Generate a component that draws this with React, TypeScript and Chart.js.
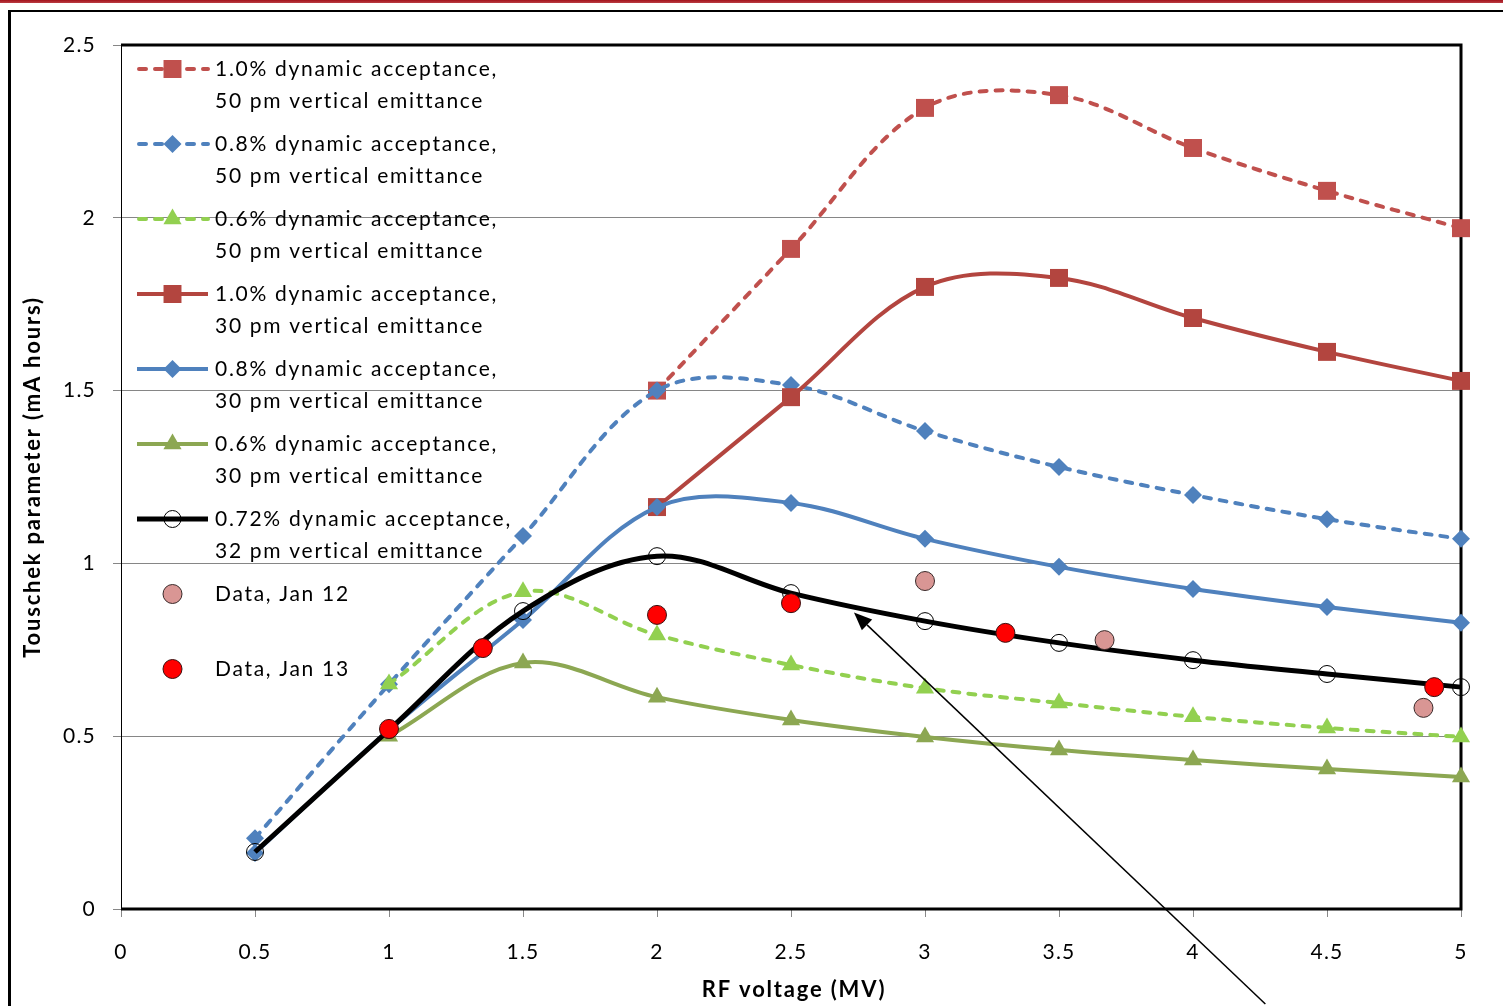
import React, { useEffect, useRef } from 'react';
import { Chart, registerables } from 'chart.js';

Chart.register(...registerables);

// ---------- data ----------
const xAll = [0.5, 1, 1.5, 2, 2.5, 3, 3.5, 4, 4.5, 5];
const xFrom1 = [1, 1.5, 2, 2.5, 3, 3.5, 4, 4.5, 5];
const xFrom2 = [2, 2.5, 3, 3.5, 4, 4.5, 5];

const da10pm50 = [1.5, 1.91, 2.318, 2.355, 2.202, 2.078, 1.97]; // xFrom2
const da08pm50 = [0.205, 0.65, 1.079, 1.5, 1.516, 1.383, 1.279, 1.198, 1.128, 1.071]; // xAll
const da06pm50 = [0.651, 0.918, 0.793, 0.706, 0.639, 0.596, 0.556, 0.524, 0.498]; // xFrom1
const da10pm30 = [1.163, 1.481, 1.8, 1.826, 1.71, 1.612, 1.528]; // xFrom2
const da08pm30 = [0.162, 0.518, 0.836, 1.163, 1.175, 1.071, 0.99, 0.926, 0.874, 0.828]; // xAll
const da06pm30 = [0.5, 0.712, 0.613, 0.547, 0.498, 0.46, 0.431, 0.405, 0.382]; // xFrom1
const da072pm32 = [0.165, 0.518, 0.862, 1.021, 0.914, 0.833, 0.77, 0.72, 0.68, 0.642]; // xAll

const jan12X = [3.0, 3.67, 4.86];
const jan12Y = [0.949, 0.778, 0.582];
const jan13X = [1.0, 1.35, 2.0, 2.5, 3.3, 4.9];
const jan13Y = [0.521, 0.755, 0.851, 0.885, 0.799, 0.642];

const xTickLabels = ['0', '0.5', '1', '1.5', '2', '2.5', '3', '3.5', '4', '4.5', '5'];
const yTickLabels = ['0', '0.5', '1', '1.5', '2', '2.5'];

const xTitle = 'RF voltage (MV)';
const yTitle = 'Touschek parameter (mA hours)';

// arrow annotation in data coordinates: tail -> tip
const arrowTail = { x: 4.27, y: -0.275 };
const arrowTip = { x: 2.735, y: 0.858 };

const labels = [
  ['1.0% dynamic acceptance,', '50 pm vertical emittance'],
  ['0.8% dynamic acceptance,', '50 pm vertical emittance'],
  ['0.6% dynamic acceptance,', '50 pm vertical emittance'],
  ['1.0% dynamic acceptance,', '30 pm vertical emittance'],
  ['0.8% dynamic acceptance,', '30 pm vertical emittance'],
  ['0.6% dynamic acceptance,', '30 pm vertical emittance'],
  ['0.72% dynamic acceptance,', '32 pm vertical emittance'],
  ['Data, Jan 12'],
  ['Data, Jan 13'],
];

const FONT = 'Lato, "Open Sans", sans-serif';
const DASH = [7, 9];

type Series = {
  xs: number[];
  ys: number[];
  color: string;
  dashed: boolean;
  lineWidth: number;
  showLine: boolean;
  style: string;
  radius: number;
  fill: string;
  stroke: string;
  strokeWidth: number;
};

const series: Series[] = [
  { xs: xFrom2, ys: da10pm50, color: '#C0504D', dashed: true, lineWidth: 4, showLine: true, style: 'rect', radius: 12.7, fill: '#C0504D', stroke: '#C0504D', strokeWidth: 0 },
  { xs: xAll, ys: da08pm50, color: '#4F81BD', dashed: true, lineWidth: 4, showLine: true, style: 'rectRot', radius: 9, fill: '#4F81BD', stroke: '#4F81BD', strokeWidth: 0 },
  { xs: xFrom1, ys: da06pm50, color: '#92D050', dashed: true, lineWidth: 4, showLine: true, style: 'triangle', radius: 10.5, fill: '#92D050', stroke: '#92D050', strokeWidth: 0 },
  { xs: xFrom2, ys: da10pm30, color: '#B3453F', dashed: false, lineWidth: 4, showLine: true, style: 'rect', radius: 12.7, fill: '#B3453F', stroke: '#B3453F', strokeWidth: 0 },
  { xs: xAll, ys: da08pm30, color: '#4F81BD', dashed: false, lineWidth: 4, showLine: true, style: 'rectRot', radius: 9, fill: '#4F81BD', stroke: '#4F81BD', strokeWidth: 0 },
  { xs: xFrom1, ys: da06pm30, color: '#8CA752', dashed: false, lineWidth: 4, showLine: true, style: 'triangle', radius: 10.5, fill: '#8CA752', stroke: '#8CA752', strokeWidth: 0 },
  { xs: xAll, ys: da072pm32, color: '#000000', dashed: false, lineWidth: 5, showLine: true, style: 'circle', radius: 8.5, fill: 'rgba(0,0,0,0)', stroke: '#000000', strokeWidth: 1 },
  { xs: jan12X, ys: jan12Y, color: '#D99694', dashed: false, lineWidth: 0, showLine: false, style: 'circle', radius: 9.5, fill: '#D99694', stroke: '#3a2a2a', strokeWidth: 1 },
  { xs: jan13X, ys: jan13Y, color: '#FF0000', dashed: false, lineWidth: 0, showLine: false, style: 'circle', radius: 9.5, fill: '#FF0000', stroke: '#3a1010', strokeWidth: 1 },
];

function drawMarker(ctx: CanvasRenderingContext2D, s: Series, x: number, y: number) {
  const r = s.radius;
  ctx.save();
  ctx.beginPath();
  if (s.style === 'rect') {
    const h = Math.SQRT1_2 * r;
    ctx.rect(x - h, y - h, 2 * h, 2 * h);
  } else if (s.style === 'rectRot') {
    ctx.moveTo(x, y - r);
    ctx.lineTo(x + r, y);
    ctx.lineTo(x, y + r);
    ctx.lineTo(x - r, y);
    ctx.closePath();
  } else if (s.style === 'triangle') {
    ctx.moveTo(x, y - r);
    ctx.lineTo(x + r * Math.sin((2 * Math.PI) / 3), y + r * 0.5);
    ctx.lineTo(x - r * Math.sin((2 * Math.PI) / 3), y + r * 0.5);
    ctx.closePath();
  } else {
    ctx.arc(x, y, r, 0, Math.PI * 2);
  }
  ctx.fillStyle = s.fill;
  ctx.fill();
  if (s.strokeWidth > 0) {
    ctx.lineWidth = s.strokeWidth;
    ctx.strokeStyle = s.stroke;
    ctx.stroke();
  }
  ctx.restore();
}

const decorPlugin = {
  id: 'decor',
  beforeDraw(chart: any) {
    const ctx: any = chart.ctx;
    ctx.save();
    ctx.fillStyle = '#ffffff';
    ctx.fillRect(0, 0, chart.width, chart.height);
    // top red band
    const g = ctx.createLinearGradient(0, 0, 0, 4);
    g.addColorStop(0, '#A3131C');
    g.addColorStop(1, '#C24A50');
    ctx.fillStyle = g;
    ctx.fillRect(0, 0, chart.width, 3);
    // outer frame
    ctx.strokeStyle = '#000';
    ctx.lineWidth = 2;
    ctx.beginPath();
    ctx.moveTo(9, chart.height);
    ctx.lineTo(9, 11);
    ctx.lineTo(chart.width, 11);
    ctx.stroke();
    ctx.lineWidth = 3;
    ctx.beginPath();
    ctx.moveTo(9.5, 11);
    ctx.lineTo(9.5, chart.height);
    ctx.stroke();
    ctx.restore();
    // slightly spaced tick labels
    ctx.letterSpacing = '1.2px';
  },
  beforeDatasetsDraw(chart: any) {
    const ctx: CanvasRenderingContext2D = chart.ctx;
    const a = chart.chartArea;
    ctx.save();
    ctx.strokeStyle = '#000';
    ctx.lineWidth = 1;
    ctx.beginPath();
    ctx.moveTo(a.left + 0.5, a.top);
    ctx.lineTo(a.left + 0.5, a.bottom);
    ctx.stroke();
    ctx.lineWidth = 3;
    ctx.beginPath();
    ctx.moveTo(a.left, a.top);
    ctx.lineTo(a.right, a.top);
    ctx.lineTo(a.right, a.bottom);
    ctx.lineTo(a.left, a.bottom);
    ctx.stroke();
    ctx.restore();
  },
  afterDraw(chart: any) {
    const ctx: any = chart.ctx;
    const a = chart.chartArea;
    const xs = chart.scales.x;
    const ys = chart.scales.y;
    ctx.save();
    // legend
    const lx0 = a.left + 16;
    const lx1 = a.left + 87;
    const mx = (lx0 + lx1) / 2;
    const tx = a.left + 94;
    let y = a.top + 24;
    ctx.font = `21px ${FONT}`;
    ctx.letterSpacing = '1.7px';
    ctx.textBaseline = 'middle';
    ctx.textAlign = 'left';
    series.forEach((s, i) => {
      if (s.showLine) {
        ctx.save();
        ctx.strokeStyle = s.color;
        ctx.lineWidth = s.lineWidth;
        if (s.dashed) {
          ctx.setLineDash(DASH);
          ctx.lineCap = 'round';
        }
        ctx.beginPath();
        ctx.moveTo(lx0 + (s.dashed ? 2 : 0), y);
        ctx.lineTo(lx1, y);
        ctx.stroke();
        ctx.restore();
      }
      drawMarker(ctx, s, mx, y);
      ctx.fillStyle = '#000';
      const lines = labels[i];
      lines.forEach((t, k) => ctx.fillText(t, tx, y + k * 32));
      y += 75;
    });
    // axis titles
    ctx.font = `bold 22px ${FONT}`;
    ctx.letterSpacing = '1.8px';
    ctx.textAlign = 'center';
    ctx.textBaseline = 'middle';
    ctx.fillText(xTitle, (a.left + a.right) / 2 + 3, 990);
    ctx.save();
    ctx.translate(33, (a.top + a.bottom) / 2);
    ctx.rotate(-Math.PI / 2);
    ctx.fillText(yTitle, 0, 0);
    ctx.restore();
    // arrow
    const x0 = xs.getPixelForValue(arrowTail.x);
    const y0 = ys.getPixelForValue(arrowTail.y);
    const x1 = xs.getPixelForValue(arrowTip.x);
    const y1 = ys.getPixelForValue(arrowTip.y);
    const ang = Math.atan2(y1 - y0, x1 - x0);
    const hl = 18;
    const hw = 7.5;
    const bx = x1 - hl * Math.cos(ang);
    const by = y1 - hl * Math.sin(ang);
    ctx.strokeStyle = '#000';
    ctx.lineWidth = 1.5;
    ctx.beginPath();
    ctx.moveTo(x0, y0);
    ctx.lineTo(bx, by);
    ctx.stroke();
    ctx.fillStyle = '#000';
    ctx.beginPath();
    ctx.moveTo(x1, y1);
    ctx.lineTo(bx + hw * Math.sin(ang), by - hw * Math.cos(ang));
    ctx.lineTo(bx - hw * Math.sin(ang), by + hw * Math.cos(ang));
    ctx.closePath();
    ctx.fill();
    ctx.restore();
  },
};

export default function App() {
  const ref = useRef<HTMLCanvasElement | null>(null);
  useEffect(() => {
    document.body.style.margin = '0';
    const canvas = ref.current;
    if (!canvas) return;
    const datasets = series.map((s, i) => ({
      label: labels[i].join(' '),
      data: s.xs.map((x, k) => ({ x, y: s.ys[k] })),
      borderColor: s.color,
      backgroundColor: s.fill,
      borderWidth: s.lineWidth,
      borderDash: s.dashed ? DASH : [],
      borderCapStyle: s.dashed ? 'round' : 'butt',
      showLine: s.showLine,
      tension: 0.35,
      pointStyle: s.style,
      pointRadius: s.radius,
      pointHoverRadius: s.radius,
      pointBackgroundColor: s.fill,
      pointBorderColor: s.stroke,
      pointBorderWidth: s.strokeWidth,
      order: series.length - i,
      clip: false,
    }));
    const chart = new Chart(canvas, {
      type: 'line',
      data: { datasets: datasets as any },
      options: {
        responsive: false,
        animation: false,
        devicePixelRatio: 1,
        layout: { padding: { left: 0, top: 45, right: 42, bottom: 0 } },
        plugins: { legend: { display: false }, tooltip: { enabled: false } },
        scales: {
          x: {
            type: 'linear',
            min: 0,
            max: 5,
            afterFit: (sc: any) => {
              sc.height = 97;
            },
            afterBuildTicks: (sc: any) => {
              sc.ticks = xTickLabels.map((l) => ({ value: parseFloat(l) }));
            },
            ticks: {
              callback: (_v: any, i: number) => xTickLabels[i],
              font: { family: FONT, size: 21 },
              color: '#000',
              padding: 23,
              maxRotation: 0,
              autoSkip: false,
            },
            grid: { drawOnChartArea: false, drawTicks: true, tickLength: 8, color: '#888' },
            border: { display: false },
          },
          y: {
            type: 'linear',
            min: 0,
            max: 2.5,
            afterFit: (sc: any) => {
              sc.width = 121;
            },
            afterBuildTicks: (sc: any) => {
              sc.ticks = yTickLabels.map((l) => ({ value: parseFloat(l) }));
            },
            ticks: {
              callback: (_v: any, i: number) => yTickLabels[i],
              font: { family: FONT, size: 21 },
              color: '#000',
              padding: 17,
              autoSkip: false,
            },
            grid: { drawOnChartArea: true, drawTicks: true, tickLength: 8, color: '#868686', lineWidth: 1 },
            border: { display: false },
          },
        },
      },
      plugins: [decorPlugin],
    });
    return () => chart.destroy();
  }, []);
  return (
    <div style={{ width: 1503, height: 1006, position: 'relative' }}>
      <canvas ref={ref} width={1503} height={1006} style={{ display: 'block', width: 1503, height: 1006 }} />
    </div>
  );
}
